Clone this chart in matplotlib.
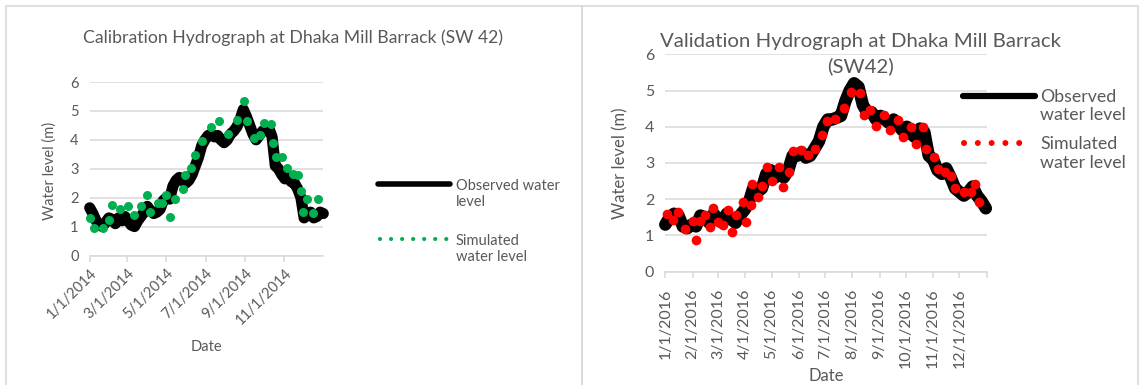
import pandas as pd
import matplotlib
matplotlib.use("Agg")
import matplotlib.pyplot as plt
from matplotlib.lines import Line2D
from matplotlib.patches import Rectangle

plt.rcParams['font.family'] = ['Lato', 'DejaVu Sans']

# ---- calibration 2014 (observed every 5 days from 1 Jan) ----
cal_obs = [1.65, 1.45, 1.2, 1.05, 1.0, 1.15, 1.3, 1.25, 1.1, 1.3,
           1.2, 1.35, 1.2, 1.05, 1.0, 1.2, 1.35, 1.5, 1.7, 1.55,
           1.45, 1.5, 1.6, 1.9, 2.0, 1.95, 2.4, 2.6, 2.7, 2.6,
           2.5, 2.6, 2.8, 3.1, 3.4, 3.8, 4.0, 4.15, 4.2, 4.1,
           4.15, 4.0, 3.9, 4.0, 4.2, 4.3, 4.45, 4.7, 5.05, 4.8,
           4.5, 4.2, 4.0, 4.15, 4.3, 4.35, 4.4, 4.1, 3.1, 3.0,
           2.8, 2.65, 2.7, 2.55, 2.5, 2.3, 2.0, 1.3, 1.4, 1.5,
           1.3, 1.35, 1.5, 1.45]
cal_sim_day = [1, 7, 21, 30, 35, 47, 60, 69, 80, 89, 95, 107, 113, 119, 126,
               134, 146, 149, 159, 165, 176, 189, 202, 216, 230, 241, 246,
               257, 266, 272, 284, 286, 291, 300, 309, 318, 325, 330, 334,
               340, 349, 357]
cal_sim = [1.28, 0.96, 0.94, 1.22, 1.74, 1.60, 1.72, 1.40, 1.72, 2.09, 1.49,
           1.83, 1.80, 2.09, 1.33, 1.97, 2.29, 2.80, 3.01, 3.47, 3.95, 4.43,
           4.64, 4.21, 4.67, 5.36, 4.65, 4.08, 4.16, 4.59, 4.56, 3.89, 3.39,
           3.39, 3.04, 2.82, 2.78, 2.22, 1.51, 1.95, 1.48, 1.94]
cal_ticks = ['2014-01-01', '2014-03-01', '2014-05-01', '2014-07-01',
             '2014-09-01', '2014-11-01']
cal_labels = ['1/1/2014', '3/1/2014', '5/1/2014', '7/1/2014', '9/1/2014',
              '11/1/2014']

# ---- validation 2016 ----
val_obs = [1.3, 1.5, 1.6, 1.55, 1.25, 1.2, 1.3, 1.25, 1.55, 1.5,
           1.35, 1.6, 1.45, 1.35, 1.6, 1.45, 1.35, 1.55, 1.7, 1.9,
           2.3, 2.2, 2.3, 2.7, 2.8, 2.6, 2.8, 2.6, 2.8, 3.2,
           3.2, 3.3, 3.15, 3.2, 3.4, 3.6, 4.0, 4.2, 4.2, 4.25,
           4.3, 4.7, 5.0, 5.2, 5.1, 4.6, 4.4, 4.4, 4.2, 4.3,
           4.2, 4.1, 4.2, 4.05, 3.9, 4.0, 3.8, 3.7, 3.95, 3.85,
           3.2, 3.1, 2.8, 2.7, 2.85, 2.6, 2.3, 2.2, 2.1, 2.2,
           2.35, 2.1, 1.95, 1.75]
val_sim_day = [2, 9, 15, 22, 31, 35, 40, 45, 51, 54, 60, 66, 71, 76, 81, 89,
               92, 98, 99, 105, 110, 116, 122, 130, 134, 141, 145, 155, 162,
               170, 178, 184, 193, 204, 212, 222, 226, 233, 240, 249, 256,
               265, 271, 280, 286, 294, 297, 306, 311, 318, 325, 330, 340,
               348, 353, 357]
val_sim = [1.60, 1.43, 1.65, 1.17, 1.41, 0.88, 1.41, 1.57, 1.24, 1.75, 1.38,
           1.29, 1.69, 1.10, 1.57, 1.93, 1.38, 1.84, 2.42, 2.06, 2.37, 2.88,
           2.49, 2.90, 2.33, 2.75, 3.34, 3.36, 3.22, 3.38, 3.78, 4.16, 4.21,
           4.51, 4.97, 4.93, 4.33, 4.47, 4.03, 4.33, 3.90, 4.19, 3.73, 3.99,
           3.53, 3.99, 3.39, 3.16, 2.84, 2.75, 2.64, 2.30, 2.21, 2.21, 2.42,
           1.92]
val_ticks = pd.date_range('2016-01-01', '2017-01-01', freq='MS')
val_labels = ['1/1/2016', '2/1/2016', '3/1/2016', '4/1/2016', '5/1/2016',
              '6/1/2016', '7/1/2016', '8/1/2016', '9/1/2016', '10/1/2016',
              '11/1/2016', '12/1/2016', '']

GREY = '#595959'
GRID = '#d9d9d9'

W, H = 1139, 385
fig = plt.figure(figsize=(W / 100, H / 100), dpi=100)

# panel frames
fig.add_artist(Rectangle((6 / W, -0.1), 576 / W, 1.1 - 6 / H, transform=fig.transFigure,
                         fill=False, ec=GRID, lw=1.2))
fig.add_artist(Rectangle((582 / W, -0.1), 556 / W, 1.1 - 6 / H, transform=fig.transFigure,
                         fill=False, ec=GRID, lw=1.2))


def px_axes(x0, x1, y0, y1):
    # pixel box (left, right, top of 6, bottom at 0)
    return fig.add_axes([x0 / W, 1 - y1 / H, (x1 - x0) / W, (y1 - y0) / H])


def style(ax, fs, xpad):
    ax.set_ylim(0, 6)
    ax.set_yticks(range(7))
    ax.grid(axis='y', color=GRID, lw=1.1)
    ax.set_axisbelow(True)
    for s in ['top', 'right', 'left']:
        ax.spines[s].set_visible(False)
    ax.spines['bottom'].set_color(GRID)
    ax.spines['bottom'].set_linewidth(1.1)
    ax.tick_params(axis='y', length=0, labelsize=fs, labelcolor=GREY, pad=8)
    ax.tick_params(axis='x', length=4, color=GRID, width=1.1, labelsize=fs,
                   labelcolor=GREY, pad=xpad)


def legend_entry(x0, x1, xt, y, handle, text, fs):
    fig.add_artist(Line2D([x0 / W, x1 / W], [1 - y / H, 1 - y / H],
                          transform=fig.transFigure, **handle))
    fig.text(xt / W, 1 - (y - fs * 0.55) / H, text, fontsize=fs, color=GREY,
             va='top', ha='left', linespacing=1.2)


# ---------------- calibration chart ----------------
ax1 = px_axes(89.7, 323.3, 82, 255.5)
style(ax1, 10.5, 3.5)
d0 = pd.Timestamp('2014-01-01')
cal_dates = pd.date_range(d0, periods=len(cal_obs), freq='5D')
cal_sim_dates = d0 + pd.to_timedelta(cal_sim_day, unit='D')
ax1.plot(cal_dates, cal_obs, color='black', lw=8, solid_joinstyle='round',
         solid_capstyle='round', clip_on=False, zorder=2)
ax1.plot(cal_sim_dates, cal_sim, 'o', color='#00b050', ms=6.5, mec='none',
         clip_on=False, zorder=3)
ax1.set_xlim(d0, pd.Timestamp('2015-01-01'))
ax1.set_xticks(pd.to_datetime(cal_ticks))
ax1.set_xticklabels(cal_labels, rotation=45, ha='right', rotation_mode='anchor')
ax1.set_ylabel('Water level (m)', fontsize=10.5, color=GREY)
ax1.yaxis.set_label_coords(-0.14, 0.49)
ax1.set_xlabel('Date', fontsize=10.5, color=GREY)
ax1.xaxis.set_label_coords(0.498, -0.487)
fig.text(293 / W, 1 - 38 / H, 'Calibration Hydrograph at Dhaka Mill Barrack (SW 42)',
         fontsize=12.7, color=GREY, ha='center', va='center')

legend_entry(378, 450, 456, 184.3,
             dict(color='black', lw=4, solid_capstyle='round'),
             'Observed water\nlevel', 10.5)
legend_entry(380, 447, 456, 239.3,
             dict(color='#00b050', lw=3, ls=(0, (0.01, 2.64)), dash_capstyle='round'),
             'Simulated\nwater level', 10.5)

# ---------------- validation chart ----------------
ax2 = px_axes(665.3, 986.7, 54.3, 271.7)
style(ax2, 11.5, 8)
d1 = pd.Timestamp('2016-01-01')
val_dates = pd.date_range(d1, periods=len(val_obs), freq='5D')
val_sim_dates = d1 + pd.to_timedelta(val_sim_day, unit='D')
ax2.plot(val_dates, val_obs, color='black', lw=9, solid_joinstyle='round',
         solid_capstyle='round', clip_on=False, zorder=2)
ax2.plot(val_sim_dates, val_sim, 'o', color='#ff0000', ms=7, mec='none',
         clip_on=False, zorder=3)
ax2.set_xlim(d1, pd.Timestamp('2017-01-01'))
ax2.set_xticks(val_ticks)
ax2.set_xticklabels(val_labels, rotation=90, ha='center', va='top')
ax2.set_ylabel('Water level (m)', fontsize=12, color=GREY)
ax2.yaxis.set_label_coords(-0.116, 0.5)
ax2.set_xlabel('Date', fontsize=12, color=GREY)
ax2.xaxis.set_label_coords(0.5, -0.443)
fig.text(860 / W, 1 - 54 / H, 'Validation Hydrograph at Dhaka Mill Barrack\n(SW42)',
         fontsize=14.7, color=GREY, ha='center', va='center', linespacing=1.5)

legend_entry(962.5, 1034.5, 1040, 95.7,
             dict(color='black', lw=4.5, solid_capstyle='round'),
             'Observed\nwater level', 12.8)
legend_entry(964, 1026, 1040, 143.3,
             dict(color='#ff0000', lw=4.3, ls=(0, (0.01, 2.3)), dash_capstyle='round'),
             'Simulated\nwater level', 12.8)

fig.savefig('out.png', dpi=100)
